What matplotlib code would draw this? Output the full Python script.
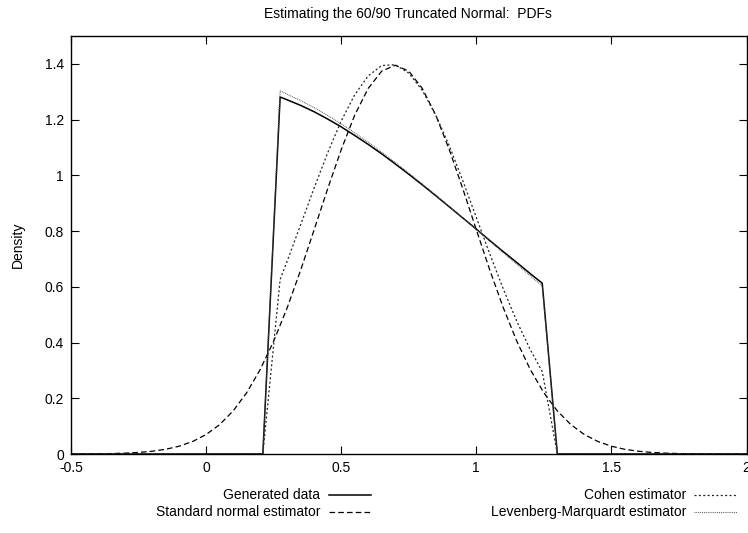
import matplotlib
matplotlib.use("Agg")
import matplotlib.pyplot as plt
from matplotlib.lines import Line2D

plt.rcParams['font.family'] = ['Liberation Sans', 'DejaVu Sans']

# Density curves sampled on the support of each estimator
x_trunc = [-0.5, 0.21, 0.274, 0.30, 0.35, 0.40, 0.45, 0.50, 0.55, 0.60, 0.65, 0.70,
           0.75, 0.80, 0.85, 0.90, 0.95, 1.00, 1.05, 1.10, 1.15, 1.20, 1.244, 1.30, 2.0]

generated = [0.0, 0.0, 1.281, 1.271, 1.251, 1.228, 1.202, 1.174, 1.143, 1.111, 1.077, 1.041,
             1.004, 0.966, 0.927, 0.887, 0.847, 0.807, 0.766, 0.726, 0.687, 0.647, 0.613, 0.0, 0.0]

cohen = [0.0, 0.0, 0.626, 0.692, 0.823, 0.955, 1.081, 1.195, 1.289, 1.357, 1.394, 1.397,
         1.367, 1.305, 1.216, 1.106, 0.981, 0.849, 0.718, 0.592, 0.476, 0.374, 0.296, 0.0, 0.0]

lev_marq = [0.0, 0.0, 1.303, 1.291, 1.268, 1.243, 1.215, 1.185, 1.152, 1.119, 1.083, 1.046,
            1.008, 0.969, 0.929, 0.888, 0.847, 0.806, 0.764, 0.722, 0.681, 0.639, 0.603, 0.0, 0.0]

x_full = [-0.5, -0.45, -0.4, -0.35, -0.3, -0.25, -0.2, -0.15, -0.1, -0.05, 0.0, 0.05, 0.1,
          0.15, 0.2, 0.25, 0.3, 0.35, 0.4, 0.45, 0.5, 0.55, 0.6, 0.65, 0.7, 0.75, 0.8,
          0.85, 0.9, 0.95, 1.0, 1.05, 1.1, 1.15, 1.2, 1.25, 1.3, 1.35, 1.4, 1.45, 1.5,
          1.55, 1.6, 1.65, 1.7, 1.75, 1.8, 1.85, 1.9, 1.95, 2.0]

std_normal = [0.0002, 0.0004, 0.0009, 0.0016, 0.0031, 0.0056, 0.0099, 0.0168, 0.0279, 0.0448,
              0.0698, 0.1054, 0.1544, 0.2196, 0.3027, 0.4045, 0.5246, 0.660, 0.805, 0.952,
              1.092, 1.216, 1.312, 1.374, 1.395, 1.374, 1.312, 1.216, 1.092, 0.952, 0.805,
              0.660, 0.5246, 0.4045, 0.3027, 0.2196, 0.1544, 0.1054, 0.0698, 0.0448, 0.0279,
              0.0168, 0.0099, 0.0056, 0.0031, 0.0016, 0.0009, 0.0004, 0.0002, 0.0001, 0.0001]

x_ticks = [-0.5, 0, 0.5, 1, 1.5, 2]
x_tick_labels = ['-0.5', '0', '0.5', '1', '1.5', '2']
y_ticks = [0, 0.2, 0.4, 0.6, 0.8, 1.0, 1.2, 1.4]
y_tick_labels = ['0', '0.2', '0.4', '0.6', '0.8', '1', '1.2', '1.4']

W, H = 748, 533
fig = plt.figure(figsize=(W / 100, H / 100), dpi=100)
ax = fig.add_axes([71 / W, 1 - 454 / H, (746.5 - 71) / W, (454 - 36) / H])

styles = {
    'Generated data': dict(color='black', lw=1.1, ls='-'),
    'Standard normal estimator': dict(color='black', lw=0.9, ls=(0, (4.5, 2.5))),
    'Cohen estimator': dict(color='#222222', lw=0.9, ls=(0, (1.6, 1.9))),
    'Levenberg-Marquardt estimator': dict(color='#555555', lw=0.8, ls=(0, (0.8, 0.9))),
}

ax.plot(x_trunc, generated, **styles['Generated data'])
ax.plot(x_full, std_normal, **styles['Standard normal estimator'])
ax.plot(x_trunc, cohen, **styles['Cohen estimator'])
ax.plot(x_trunc, lev_marq, **styles['Levenberg-Marquardt estimator'])

ax.set_xlim(-0.5, 2.0)
ax.set_ylim(0, 1.5)
ax.set_xticks(x_ticks)
ax.set_xticklabels(x_tick_labels)
ax.set_yticks(y_ticks)
ax.set_yticklabels(y_tick_labels)
ax.tick_params(direction='in', length=6, width=0.8, top=True, right=True,
               labelsize=10, pad=5)
for s in ax.spines.values():
    s.set_linewidth(1.0)

fig.text(408 / W, 1 - 14 / H, 'Estimating the 60/90 Truncated Normal:  PDFs',
         ha='center', va='center', fontsize=10)
fig.text(18 / W, 1 - 245 / H, 'Density', rotation=90, ha='center', va='center',
         fontsize=10)

# Key below the plot, two columns with text right-aligned before each sample
key = [
    ('Generated data', 320, 329, 371, 495),
    ('Standard normal estimator', 320, 329, 371, 512),
    ('Cohen estimator', 686, 694, 737, 495),
    ('Levenberg-Marquardt estimator', 686, 694, 737, 512),
]
for label, tx, x0, x1, y in key:
    fig.text(tx / W, 1 - y / H, label, ha='right', va='center', fontsize=10)
    fig.add_artist(Line2D([x0 / W, x1 / W], [1 - y / H, 1 - y / H],
                          transform=fig.transFigure, **styles[label]))

fig.savefig('out.png', dpi=100)
